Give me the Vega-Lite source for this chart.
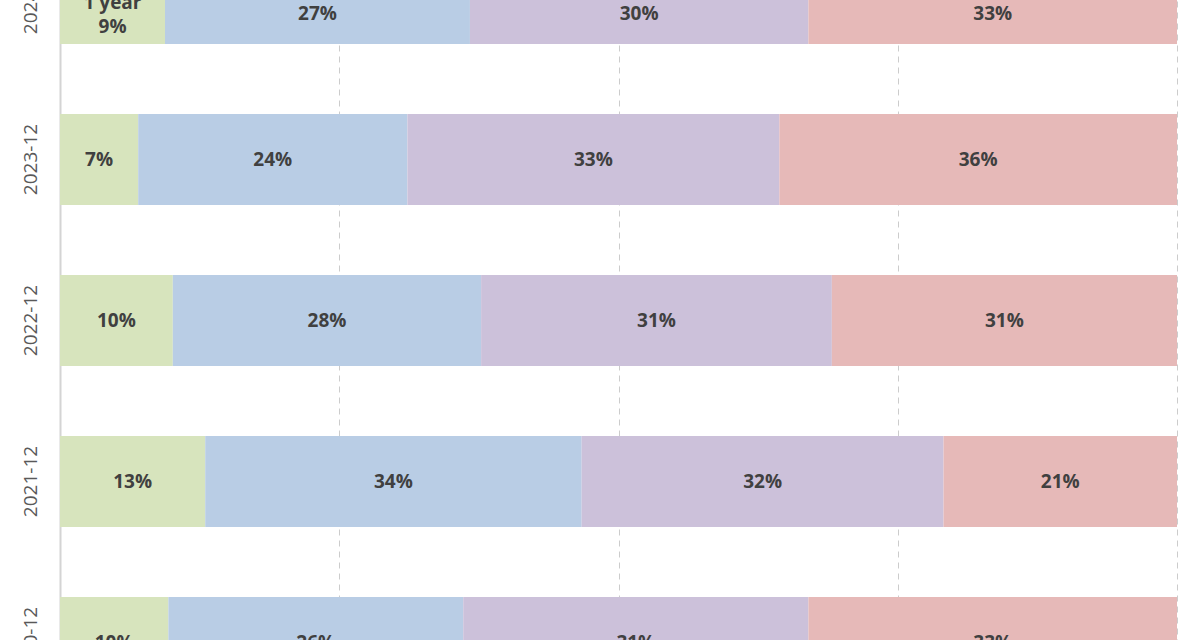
{
  "$schema": "https://vega.github.io/schema/vega-lite/v6.json",
  "width": 1117,
  "height": 640,
  "autosize": {"type": "none"},
  "padding": {"left": 60, "top": 0, "right": 23, "bottom": 0},
  "background": "white",
  "config": {"view": {"stroke": null}, "font": "Open Sans"},
  "data": {
    "values": [
      {"year": "2024-12", "series": "1 year", "value": 0.094},
      {"year": "2024-12", "series": "1-3 years", "value": 0.273},
      {"year": "2024-12", "series": "3-5 years", "value": 0.303},
      {"year": "2024-12", "series": "5+ years", "value": 0.330},
      {"year": "2023-12", "series": "1 year", "value": 0.070},
      {"year": "2023-12", "series": "1-3 years", "value": 0.241},
      {"year": "2023-12", "series": "3-5 years", "value": 0.333},
      {"year": "2023-12", "series": "5+ years", "value": 0.356},
      {"year": "2022-12", "series": "1 year", "value": 0.101},
      {"year": "2022-12", "series": "1-3 years", "value": 0.276},
      {"year": "2022-12", "series": "3-5 years", "value": 0.314},
      {"year": "2022-12", "series": "5+ years", "value": 0.309},
      {"year": "2021-12", "series": "1 year", "value": 0.130},
      {"year": "2021-12", "series": "1-3 years", "value": 0.337},
      {"year": "2021-12", "series": "3-5 years", "value": 0.324},
      {"year": "2021-12", "series": "5+ years", "value": 0.209},
      {"year": "2020-12", "series": "1 year", "value": 0.097},
      {"year": "2020-12", "series": "1-3 years", "value": 0.264},
      {"year": "2020-12", "series": "3-5 years", "value": 0.309},
      {"year": "2020-12", "series": "5+ years", "value": 0.330}
    ]
  },
  "transform": [
    {"stack": "value", "groupby": ["year"], "sort": [{"field": "series"}], "offset": "normalize", "as": ["x0", "x1"]},
    {"calculate": "(datum.x0 + datum.x1) / 2", "as": "xm"}
  ],
  "encoding": {
    "y": {
      "field": "year",
      "type": "nominal",
      "scale": {
        "domain": ["2024-12", "2023-12", "2022-12", "2021-12", "2020-12"],
        "range": [-82, 723],
        "paddingInner": 0.435,
        "paddingOuter": 0.2175
      },
      "axis": {
        "title": null,
        "labelAngle": -90,
        "labelAlign": "center",
        "labelBaseline": "middle",
        "labelPadding": 30,
        "labelFontSize": 19,
        "labelColor": "#595959",
        "ticks": false,
        "domainColor": "#d4d4d4",
        "domainWidth": 2,
        "labelOverlap": false,
        "labelBound": false
      }
    }
  },
  "layer": [
    {
      "mark": {"type": "bar", "clip": true},
      "encoding": {
        "x": {
          "field": "x0",
          "type": "quantitative",
          "scale": {"domain": [0, 1], "nice": false},
          "axis": {
            "values": [0.25, 0.5, 0.75, 1],
            "labels": false,
            "ticks": false,
            "domain": false,
            "title": null,
            "grid": true,
            "gridDash": [6, 5],
            "gridColor": "#cccccc",
            "gridWidth": 1
          }
        },
        "x2": {"field": "x1"},
        "color": {
          "field": "series",
          "type": "nominal",
          "scale": {
            "domain": ["1 year", "1-3 years", "3-5 years", "5+ years"],
            "range": ["#d7e4bd", "#b9cde5", "#ccc1da", "#e6b9b8"]
          },
          "legend": null
        }
      }
    },
    {
      "transform": [{"filter": "datum.year != '2024-12'"}],
      "mark": {"type": "text", "clip": true, "fontSize": 19, "fontWeight": "bold", "color": "#404040", "baseline": "middle"},
      "encoding": {
        "x": {"field": "xm", "type": "quantitative"},
        "text": {"field": "value", "type": "quantitative", "format": ".0%"}
      }
    },
    {
      "transform": [{"filter": "datum.year == '2024-12' && datum.series != '1 year'"}],
      "mark": {"type": "text", "clip": true, "fontSize": 19, "fontWeight": "bold", "color": "#404040", "baseline": "middle", "dy": 15.5},
      "encoding": {
        "x": {"field": "xm", "type": "quantitative"},
        "text": {"field": "value", "type": "quantitative", "format": ".0%"}
      }
    },
    {
      "transform": [{"filter": "datum.year == '2024-12' && datum.series == '1 year'"}],
      "mark": {"type": "text", "clip": true, "fontSize": 19, "fontWeight": "bold", "color": "#404040", "baseline": "middle", "dy": 28.5},
      "encoding": {
        "x": {"field": "xm", "type": "quantitative"},
        "text": {"field": "value", "type": "quantitative", "format": ".0%"}
      }
    },
    {
      "transform": [{"filter": "datum.year == '2024-12' && datum.series == '1 year'"}],
      "mark": {"type": "text", "clip": true, "fontSize": 19, "fontWeight": "bold", "color": "#404040", "baseline": "middle", "dy": 4.5},
      "encoding": {
        "x": {"field": "xm", "type": "quantitative"},
        "text": {"field": "series"}
      }
    }
  ]
}
